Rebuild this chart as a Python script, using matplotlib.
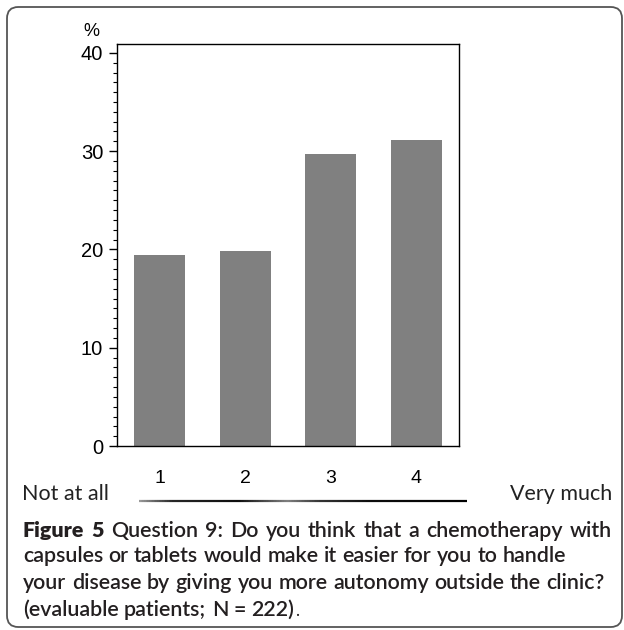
import matplotlib
matplotlib.use("Agg")
import matplotlib.pyplot as plt
import numpy as np
from matplotlib.patches import FancyBboxPatch
from matplotlib.collections import LineCollection
from matplotlib.ticker import MultipleLocator

categories = [1, 2, 3, 4]
tick_labels = ["1", "2", "3", "4"]
percent = [19.4, 19.8, 29.7, 31.1]
y_ticks = [0, 10, 20, 30, 40]
y_tick_labels = ["0", "10", "20", "30", "40"]

W, H = 624, 630
fig = plt.figure(figsize=(W / 100, H / 100), dpi=100)

def px(x, y):
    return x / W, 1 - y / H

# axes
ax = fig.add_axes([117 / W, 184 / H, 342 / W, 402 / H])
ax.bar(categories, percent, width=0.6, color="#808080", edgecolor="none")
ax.set_xlim(0.5, 4.5)
ax.set_ylim(0, 40.9)
ax.set_yticks(y_ticks, labels=y_tick_labels)
ax.yaxis.set_minor_locator(MultipleLocator(1))
ax.set_xticks(categories, labels=tick_labels)
ax.tick_params(axis="x", length=0, pad=17, labelsize=14,
               labelfontfamily="Liberation Sans")
ax.tick_params(axis="y", which="major", length=6, width=1, pad=4,
               labelsize=14.5, labelfontfamily="Liberation Sans")
ax.tick_params(axis="y", which="minor", length=3, width=0.8)
for s in ax.spines.values():
    s.set_linewidth(1.0)
    s.set_color("black")

fig.text(*px(91, 31), "%", ha="center", va="center", fontsize=13,
         family="Liberation Sans")

# scale labels
fig.text(*px(22, 500), "Not at all", ha="left", va="baseline", fontsize=15.5,
         family="Lato", color="#222222")
fig.text(*px(510, 500), "Very much", ha="left", va="baseline", fontsize=15.5,
         family="Lato", color="#222222")

# gradient line under the scale
xs = np.linspace(139, 467, 200)
segs = [[px(xs[i], 501), px(xs[i + 1], 501)] for i in range(len(xs) - 1)]
tpos = (xs[:-1] - 139) / (467 - 139)
grey = np.interp(tpos, [0, 0.1, 0.3, 0.45, 0.55, 0.7, 1.0],
                 [0.6, 0.15, 0.05, 0.5, 0.2, 0.05, 0.0])
lc = LineCollection(segs, colors=[(g, g, g) for g in grey], linewidths=1.6,
                    transform=fig.transFigure)
fig.add_artist(lc)

# outer border
box = FancyBboxPatch((7 / W, 1 - 627 / H), (622 - 7) / W, (627 - 7) / H,
                     boxstyle="round,pad=0,rounding_size=0.018",
                     transform=fig.transFigure, fill=False,
                     edgecolor="#555555", linewidth=1.3)
fig.add_artist(box)

# caption
renderer = fig.canvas.get_renderer()
CFONT = "Lato"

def measure(s, weight, size):
    t = fig.text(0, 0, s, fontsize=size, family=CFONT, weight=weight)
    bb = t.get_window_extent(renderer)
    t.remove()
    return bb.width

line1 = [("Figure", "heavy"), ("5", "heavy")] + [
    (w, "semibold") for w in
    "Question 9: Do you think that a chemotherapy with".split()]
line2 = [(w, "semibold") for w in
         "capsules or tablets would make it easier for you to handle".split()]
line3 = [(w, "semibold") for w in
         "your disease by giving you more autonomy outside the clinic?".split()]
line4 = [(w, "semibold") for w in "(evaluable patients; N = 222)".split()]

# fit caption size so that line 2 spans its width in the reference
base = 10.0
w2 = measure(" ".join(w for w, _ in line2), "semibold", base)
CSIZE = base * (568 - 23) / w2

def place_line(words, y, x0, x1=None):
    widths = [measure(w, wt, CSIZE) for w, wt in words]
    space = measure("a a", "semibold", CSIZE) - measure("aa", "semibold", CSIZE)
    if x1 is not None and len(words) > 1:
        gap = (x1 - x0 - sum(widths)) / (len(words) - 1)
    else:
        gap = space
    x = x0
    for (w, wt), wd in zip(words, widths):
        fig.text(*px(x, y), w, fontsize=CSIZE, family=CFONT, weight=wt,
                 ha="left", va="baseline", color="#231f20")
        x += wd + gap
    return x - gap

place_line(line1, 537, 23, 612)
place_line(line2, 562, 23)
place_line(line3, 589, 23, 605)
xe = place_line(line4, 616, 23)
fig.text(*px(xe + 1, 616), ".", fontsize=CSIZE * 0.8, family=CFONT,
         ha="left", va="baseline", color="#231f20")

fig.savefig("out.png", dpi=100)
